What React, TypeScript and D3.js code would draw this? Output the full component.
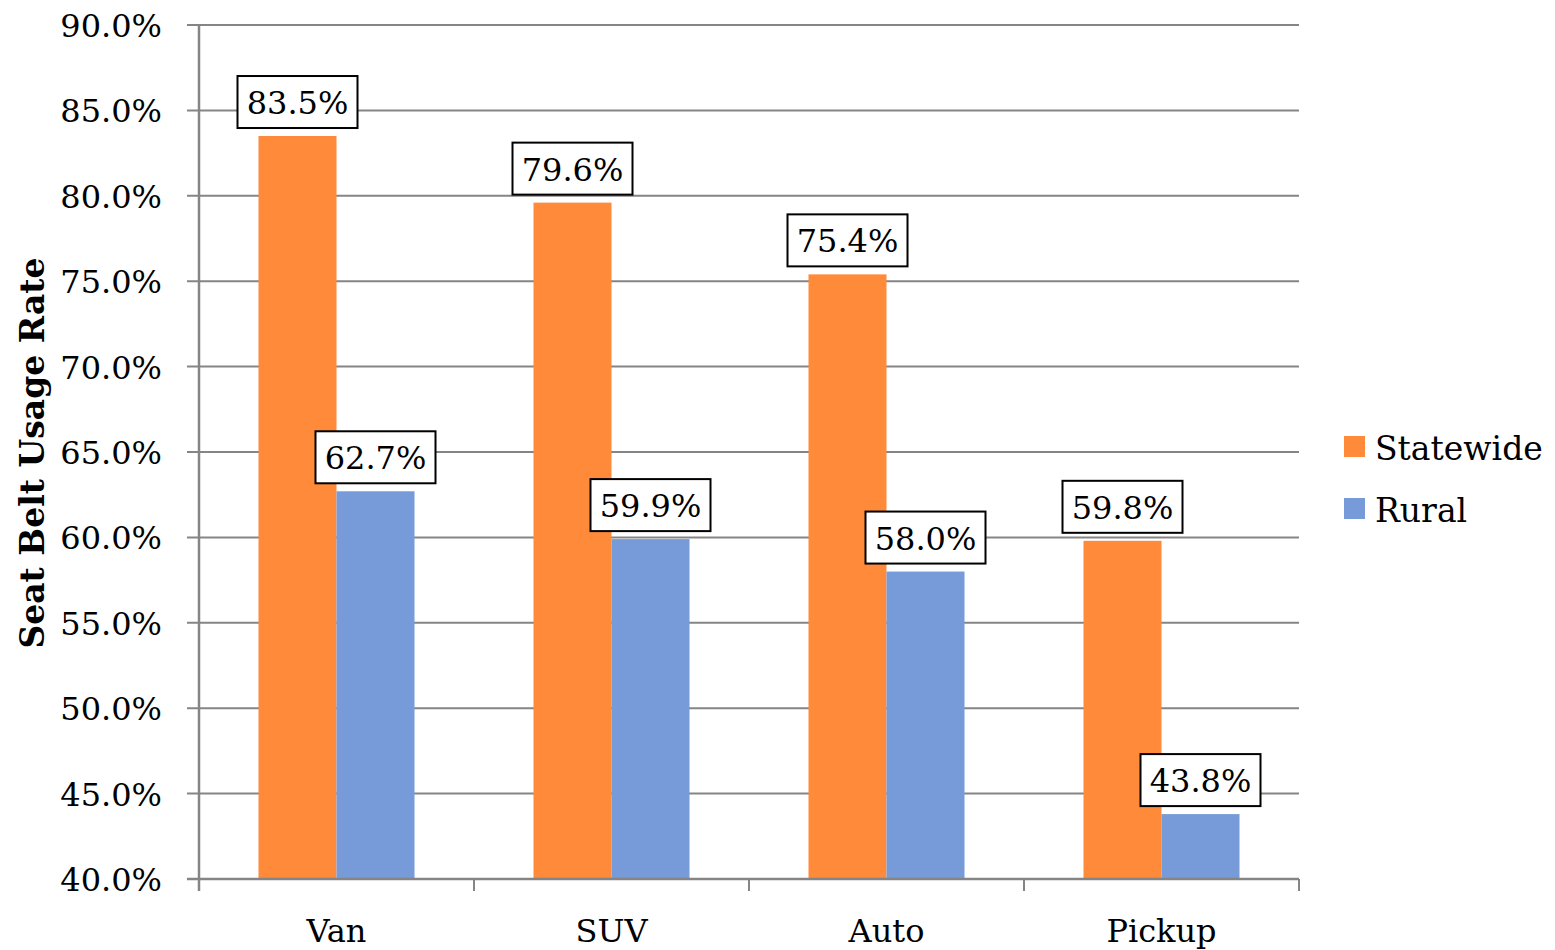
import React from "react";
import * as d3 from "d3";

const categories = ["Van", "SUV", "Auto", "Pickup"];
const seriesNames = ["Statewide", "Rural"];
const statewide = [83.5, 79.6, 75.4, 59.8];
const rural = [62.7, 59.9, 58.0, 43.8];
const yTicks = [40, 45, 50, 55, 60, 65, 70, 75, 80, 85, 90];
const colors = ["#FF8A3A", "#779AD8"];

const FONT = "'DejaVu Serif', serif";

export default function App() {
  const W = 1555, H = 950;
  const left = 199, right = 1299, top = 25, bottom = 879;
  const x = d3.scaleBand<string>().domain(categories).range([left, right]).paddingInner(0).paddingOuter(0);
  const y = d3.scaleLinear().domain([40, 90]).range([bottom, top]);
  const barW = 78;
  const series = [statewide, rural];
  const grid = "#858585";
  const fmt = (v: number) => v.toFixed(1) + "%";
  const fs = 32;

  return (
    <svg width={W} height={H} style={{ position: "absolute", left: 0, top: 0, background: "#fff" }}>
      {yTicks.map((t) => (
        <g key={t}>
          <line x1={left - 12} x2={right} y1={y(t)} y2={y(t)} stroke={grid} strokeWidth={2} />
          <text x={162} y={y(t) + 12} textAnchor="end" fontFamily={FONT} fontSize={fs} fill="#000">
            {fmt(t)}
          </text>
        </g>
      ))}
      <line x1={left} x2={left} y1={top} y2={bottom + 12} stroke={grid} strokeWidth={2.5} />
      {categories.map((c, i) => {
        const cx = (x(c) as number) + x.bandwidth() / 2;
        return (
          <g key={c}>
            {series.map((s, j) => {
              const bx = cx - barW + j * barW;
              return (
                <rect key={j} x={bx} y={y(s[i])} width={barW} height={bottom - y(s[i])} fill={colors[j]} />
              );
            })}
          </g>
        );
      })}
      <line x1={left - 12} x2={right} y1={bottom} y2={bottom} stroke={grid} strokeWidth={2.5} />
      {categories.map((c) => (
        <line key={"t" + c} x1={x(c) as number} x2={x(c) as number} y1={bottom} y2={bottom + 12} stroke={grid} strokeWidth={2} />
      ))}
      <line x1={right} x2={right} y1={bottom} y2={bottom + 12} stroke={grid} strokeWidth={2} />
      {categories.map((c) => (
        <text key={"l" + c} x={(x(c) as number) + x.bandwidth() / 2} y={942} textAnchor="middle" fontFamily={FONT} fontSize={fs} fill="#000">
          {c}
        </text>
      ))}
      {categories.map((c, i) => {
        const cx = (x(c) as number) + x.bandwidth() / 2;
        return series.map((s, j) => {
          const bc = cx - barW + j * barW + barW / 2;
          const by = y(s[i]) - 8;
          return (
            <g key={c + j}>
              <rect x={bc - 60} y={by - 52} width={120} height={52} fill="#fff" stroke="#000" strokeWidth={2} />
              <text x={bc} y={by - 14} textAnchor="middle" fontFamily={FONT} fontSize={fs} fill="#000">
                {fmt(s[i])}
              </text>
            </g>
          );
        });
      })}
      {seriesNames.map((n, j) => (
        <g key={n}>
          <rect x={1344} y={436 + j * 62} width={21} height={21} fill={colors[j]} />
          <text x={1375} y={460 + j * 62} fontFamily={FONT} fontSize={33} fill="#000">
            {n}
          </text>
        </g>
      ))}
      <text
        transform={`translate(44,453) rotate(-90)`}
        textAnchor="middle"
        fontFamily={FONT}
        fontWeight="bold"
        fontSize={33}
        fill="#000"
      >
        Seat Belt Usage Rate
      </text>
    </svg>
  );
}
